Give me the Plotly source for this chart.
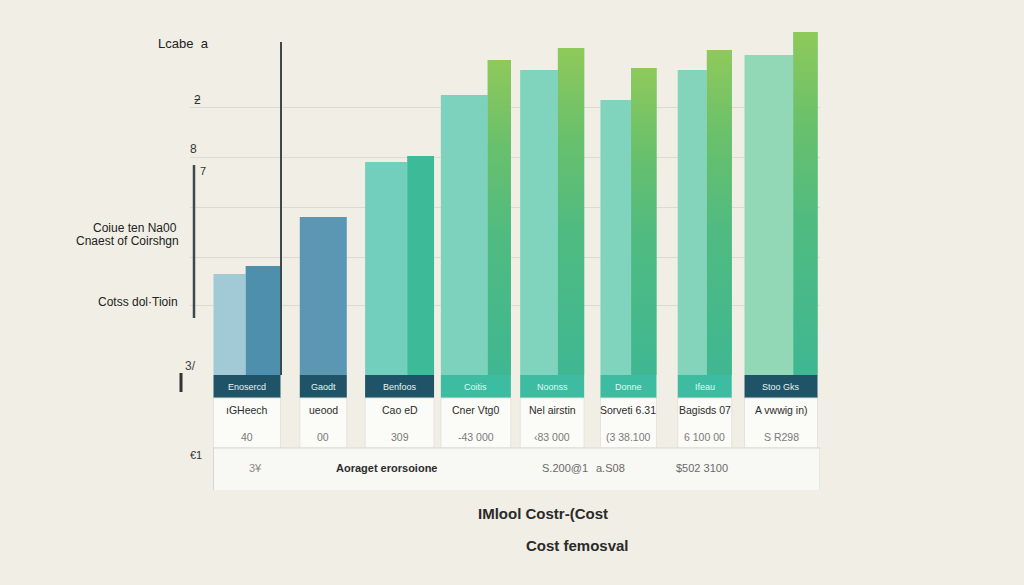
import plotly.graph_objects as go

# ---------------- data ----------------
categories = ["Enosercd", "Gaodt", "Benfoos", "Coitis", "Noonss", "Donne", "Ifeau", "Stoo Gks"]
row2_labels = ["ıGHeech", "ueood", "Cao eD", "Cner Vtg0", "Nel airstin", "Sorveti 6.31", "Bagisds 07", "A vwwig in)"]
row3_values = ["40", "00", "309", "-43 000", "‹83 000", "(3 38.100", "6 100 00", "S R298"]
light_values = [2.02, 3.16, 4.26, 5.60, 6.10, 5.50, 6.10, 6.40]
dark_values = [2.18, None, 4.38, 6.30, 6.54, 6.14, 6.50, 6.86]
grid_values = [1.40, 2.36, 3.36, 4.36, 5.36]
summary_label = "Aoraget erorsoione"
summary_texts = ["3¥", "S.200@1", "a.S08", "$502 3100"]

# ---------------- styles ----------------
BG = "#f0eee5"
FONT = "Liberation Sans, Arial, sans-serif"
group_width = [0.878, 0.616, 0.904, 0.918, 0.839, 0.734, 0.708, 0.957]
light_frac = [0.48, 1.0, 0.61, 0.67, 0.59, 0.55, 0.54, 0.67]
light_colors = ["#a2cad6", "#5b97b3", "#72cfbd", "#7dd2bd", "#80d3bc", "#80d3bc", "#84d4bb", "#92d8b7"]
dark_colors = ["#4e8fad", "#4e8fad", "#3dbb98", "#52bc80", "#52bc80", "#52bc80", "#52bc80", "#52bc80"]
gradient_groups = [3, 4, 5, 6, 7]
gradient_scale = [[0, "#3fb792"], [0.45, "#50bb80"], [0.72, "#68c06c"], [1, "#8fc95a"]]
header_colors = ["#1e5368", "#1e5368", "#1e5368", "#3dbca2", "#3dbca2", "#3dbca2", "#3dbca2", "#1e5368"]

x = list(range(len(categories)))
light_w = [g * f for g, f in zip(group_width, light_frac)]
light_off = [-g / 2 for g in group_width]
dark_w = [g * (1 - f) for g, f in zip(group_width, light_frac)]
dark_off = [-g / 2 + g * f for g, f in zip(group_width, light_frac)]

# pixel helpers for layout-only items (plot area: x 190..820 px, y 0..490 px)
X0, PXU = 247.0, 76.29
Y0, PYU = 375.0, 50.0
def ax(px):
    return (px - X0) / PXU
def ay(py):
    return (Y0 - py) / PYU
def paper_x(px):
    return (px - 190) / 630.0
def paper_y(py):
    return (490 - py) / 490.0

fig = go.Figure()
fig.add_trace(go.Bar(x=x, y=light_values, width=light_w, offset=light_off,
                     marker=dict(color=light_colors, line=dict(width=0)), hoverinfo="skip"))
fig.add_trace(go.Bar(x=x, y=dark_values, width=dark_w, offset=dark_off,
                     marker=dict(color=dark_colors, line=dict(width=0)), hoverinfo="skip"))

# gradient overlay for the green bars
for i in gradient_groups:
    v = dark_values[i]
    x0 = x[i] + dark_off[i]
    x1 = x0 + dark_w[i]
    fig.add_trace(go.Scatter(x=[x0, x0, x1, x1, x0], y=[0, v, v, 0, 0], mode="lines",
                             line=dict(width=0), fill="toself",
                             fillgradient=dict(type="vertical", colorscale=gradient_scale),
                             hoverinfo="skip"))

shapes = []
annotations = []

# table cells
for i in x:
    left = x[i] - group_width[i] / 2
    right = x[i] + group_width[i] / 2
    shapes.append(dict(type="rect", xref="x", yref="y", x0=left, x1=right, y0=ay(398), y1=ay(375),
                       fillcolor=header_colors[i], line=dict(width=0), layer="above"))
    shapes.append(dict(type="rect", xref="x", yref="y", x0=left, x1=right, y0=ay(448), y1=ay(398),
                       fillcolor="#fbfbf8", line=dict(width=1, color="#e4e3dc"), layer="above"))
    annotations.append(dict(x=x[i], y=ay(386.5), xref="x", yref="y", text=categories[i], showarrow=False,
                            font=dict(family=FONT, size=9, color="#e8f4f2")))
    annotations.append(dict(x=x[i], y=ay(410), xref="x", yref="y", text=row2_labels[i], showarrow=False,
                            font=dict(family=FONT, size=10.5, color="#2c2c2c")))
    annotations.append(dict(x=x[i], y=ay(437), xref="x", yref="y", text=row3_values[i], showarrow=False,
                            font=dict(family=FONT, size=10.5, color="#7a7a7a")))

# summary row
shapes.append(dict(type="rect", xref="x", yref="y", x0=x[0] - group_width[0] / 2, x1=ax(820),
                   y0=ay(491), y1=ay(448), fillcolor="#f8f8f4", line=dict(width=1, color="#d8d8d0"),
                   layer="above"))
for txt, px, col, bold in [(summary_texts[0], 255, "#8a8a8a", False), (summary_label, 386, "#2c2c2c", True),
                           (summary_texts[1], 565, "#6a6a6a", False), (summary_texts[2], 610, "#6a6a6a", False),
                           (summary_texts[3], 702, "#6a6a6a", False)]:
    annotations.append(dict(x=ax(px), y=ay(468), xref="x", yref="y",
                            text=("<b>%s</b>" % txt) if bold else txt, showarrow=False,
                            font=dict(family=FONT, size=11, color=col)))

# vertical rules
line_col = "#3d4a4c"
shapes.append(dict(type="line", xref="paper", yref="paper", x0=paper_x(281), x1=paper_x(281),
                   y0=paper_y(42), y1=paper_y(375), line=dict(color=line_col, width=2)))
shapes.append(dict(type="line", xref="paper", yref="paper", x0=paper_x(194), x1=paper_x(194),
                   y0=paper_y(165), y1=paper_y(318), line=dict(color=line_col, width=2.5)))
shapes.append(dict(type="line", xref="paper", yref="paper", x0=paper_x(181), x1=paper_x(181),
                   y0=paper_y(373), y1=paper_y(392), line=dict(color="#333", width=3)))

# left side texts
def side(text, px, py, size=12, color="#222", anchor="center", bold=False):
    annotations.append(dict(x=paper_x(px), y=paper_y(py), xref="paper", yref="paper",
                            text=("<b>%s</b>" % text) if bold else text, showarrow=False,
                            xanchor=anchor, yanchor="middle",
                            font=dict(family=FONT, size=size, color=color)))

side("Lcabe  a", 183, 44, size=13)
side("ƻ", 197, 100, size=12, color="#333")
side("8", 193, 149, size=12, color="#333")
side("7", 203, 171, size=11, color="#333")
side("Coiue ten Na00", 179, 228, size=12, anchor="right")
side("Cnaest of Coirshgn", 181, 241, size=12, anchor="right")
side("Cotss dol·Tioin", 180, 302, size=12, anchor="right")
side("3/", 190, 366, size=12, color="#444")
side("€1", 196, 455, size=11, color="#333")
side("IMlool Costr-(Cost", 543, 513, size=15, bold=True, color="#2a2a2a")
side("Cost femosval", 577, 545, size=15, bold=True, color="#2a2a2a")

fig.update_layout(
    width=1024, height=585,
    margin=dict(l=190, r=204, t=0, b=95),
    paper_bgcolor=BG, plot_bgcolor=BG,
    barmode="overlay", showlegend=False,
    xaxis=dict(range=[ax(190), ax(820)], showgrid=False, zeroline=False, showticklabels=False,
               ticks="", showline=False, fixedrange=True),
    yaxis=dict(range=[ay(490), ay(0)], tickvals=grid_values, showticklabels=False, ticks="",
               gridcolor="#dcdbd2", gridwidth=1, zeroline=False, showline=False, fixedrange=True),
    shapes=shapes, annotations=annotations,
    font=dict(family=FONT),
)

fig.write_html("out.html", config={"displayModeBar": False},
               post_script="document.body.style.margin='0';document.body.style.background='%s';" % BG)
